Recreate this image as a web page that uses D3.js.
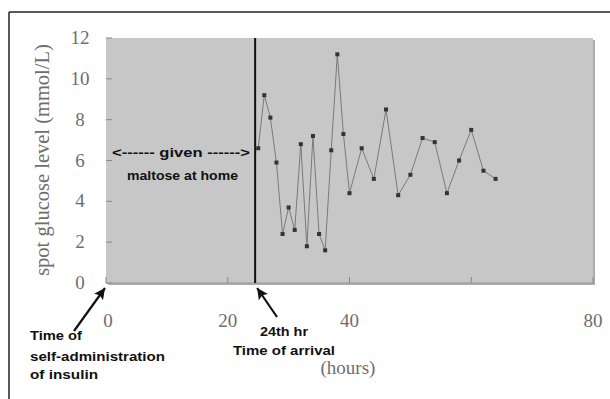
<!DOCTYPE html>
<html>
<head>
<meta charset="utf-8">
<script src="https://cdn.jsdelivr.net/npm/d3@7"></script>
<style>
  body { margin: 0; background: #fff; }
  .serif { font-family: "Liberation Serif", "DejaVu Serif", serif; fill: #6e6e6e; }
  .note { font-family: "Liberation Sans", Arial, sans-serif; font-weight: bold; font-size: 12.5px; fill: #111; }
</style>
</head>
<body>
<div id="chart"></div>
<script>
// hours since insulin, spot glucose (mmol/L)
var hours = [25, 26, 27, 28, 29, 30, 31, 32, 33, 34, 35, 36, 37, 38, 39, 40,
             42, 44, 46, 48, 50, 52, 54, 56, 58, 60, 62, 64];
var glucose = [6.6, 9.2, 8.1, 5.9, 2.4, 3.7, 2.6, 6.8, 1.8, 7.2, 2.4, 1.6, 6.5, 11.2, 7.3, 4.4,
               6.6, 5.1, 8.5, 4.3, 5.3, 7.1, 6.9, 4.4, 6.0, 7.5, 5.5, 5.1];
var xTicks = [0, 20, 40, 60, 80];
var xTickLabels = ["0", "20", "40", "", "80"];
var yTicks = [0, 2, 4, 6, 8, 10, 12];
var arrivalHour = 24.5;

var W = 610, H = 399;
var margin = {top: 38, right: 17, bottom: 116, left: 106},
    width = W - margin.left - margin.right,
    height = H - margin.top - margin.bottom;

var root = d3.select("#chart").append("svg")
    .attr("width", W)
    .attr("height", H);

// outer frame (top + left only)
root.append("line").attr("x1", 9).attr("x2", W).attr("y1", 12).attr("y2", 12)
  .attr("stroke", "#222").attr("stroke-width", 1.5);
root.append("line").attr("x1", 9).attr("x2", 9).attr("y1", 12).attr("y2", H)
  .attr("stroke", "#222").attr("stroke-width", 1.5);

var svg = root.append("g")
    .attr("transform", "translate(" + margin.left + "," + margin.top + ")");

var x = d3.scaleLinear().domain([0, 80]).range([0, width]);
var y = d3.scaleLinear().domain([0, 12]).range([height, 0]);

// plot area with slight shadow
svg.append("rect").attr("x", 2).attr("y", 2).attr("width", width).attr("height", height)
  .attr("fill", "#adadad");
svg.append("rect").attr("width", width).attr("height", height)
  .attr("fill", "#c7c7c7");

// ticks (inward)
svg.selectAll(".yt").data(yTicks).enter().append("line")
  .attr("x1", 0).attr("x2", 6)
  .attr("y1", d => y(d)).attr("y2", d => y(d))
  .attr("stroke", "#888");
svg.selectAll(".xt").data(xTicks).enter().append("line")
  .attr("x1", d => x(d)).attr("x2", d => x(d))
  .attr("y1", height).attr("y2", height - 6)
  .attr("stroke", "#888");

// bottom axis line
svg.append("line").attr("x1", 0).attr("x2", width).attr("y1", height).attr("y2", height)
  .attr("stroke", "#999");

// tick labels
svg.selectAll(".yl").data(yTicks).enter().append("text")
  .attr("class", "serif")
  .attr("x", -26).attr("y", d => y(d) + 6)
  .attr("text-anchor", "middle")
  .attr("font-size", 19)
  .text(d => d);
svg.selectAll(".xl").data(xTicks).enter().append("text")
  .attr("class", "serif")
  .attr("x", (d, i) => x(d) + (i === 0 ? 2 : 0)).attr("y", height + 44)
  .attr("text-anchor", "middle")
  .attr("font-size", 19)
  .text((d, i) => xTickLabels[i]);

// axis titles
root.append("text").attr("class", "serif")
  .attr("transform", "translate(49,160) rotate(-90)")
  .attr("text-anchor", "middle")
  .attr("font-size", 20.5)
  .text("spot glucose level (mmol/L)");
root.append("text").attr("class", "serif")
  .attr("x", 348).attr("y", 374)
  .attr("text-anchor", "middle")
  .attr("font-size", 19)
  .text("(hours)");

// arrival line
svg.append("line")
  .attr("x1", x(arrivalHour)).attr("x2", x(arrivalHour))
  .attr("y1", y(12)).attr("y2", y(0))
  .attr("stroke", "#111").attr("stroke-width", 2);

// data line + markers
var data = hours.map((h, i) => ({h: h, g: glucose[i]}));
svg.append("path")
  .datum(data)
  .attr("fill", "none")
  .attr("stroke", "#7a7a7a")
  .attr("stroke-width", 1)
  .attr("d", d3.line().x(d => x(d.h)).y(d => y(d.g)));
svg.selectAll(".pt").data(data).enter().append("rect")
  .attr("x", d => x(d.h) - 2).attr("y", d => y(d.g) - 2)
  .attr("width", 4).attr("height", 4)
  .attr("fill", "#333");

// annotations: [text, x, baseline y, width]
var notes = [
  ["<------ given ------>", 112, 157, 138],
  ["maltose at home", 127, 180, 111],
  ["Time of", 30, 340, 52],
  ["self-administration", 30, 361, 135],
  ["of insulin", 30, 379, 68],
  ["24th hr", 260, 336, 48],
  ["Time of arrival", 233, 355, 102]
];
root.selectAll(".note").data(notes).enter().append("text")
  .attr("class", "note")
  .attr("x", d => d[1]).attr("y", d => d[2])
  .attr("textLength", d => d[3])
  .attr("lengthAdjust", "spacingAndGlyphs")
  .text(d => d[0]);

// arrows
root.append("defs").append("marker")
  .attr("id", "ah").attr("viewBox", "0 0 10 10")
  .attr("refX", 10).attr("refY", 5)
  .attr("markerWidth", 6).attr("markerHeight", 5)
  .attr("orient", "auto")
  .append("path").attr("d", "M0,0 L10,5 L0,10 L2,5 Z").attr("fill", "#111");

root.append("line").attr("x1", 74).attr("y1", 331).attr("x2", x(0) + margin.left - 1).attr("y2", 288)
  .attr("stroke", "#111").attr("stroke-width", 2.2).attr("marker-end", "url(#ah)");
root.append("line").attr("x1", 277).attr("y1", 317).attr("x2", x(arrivalHour) + margin.left + 2).attr("y2", 288)
  .attr("stroke", "#111").attr("stroke-width", 2.2).attr("marker-end", "url(#ah)");
</script>
</body>
</html>
